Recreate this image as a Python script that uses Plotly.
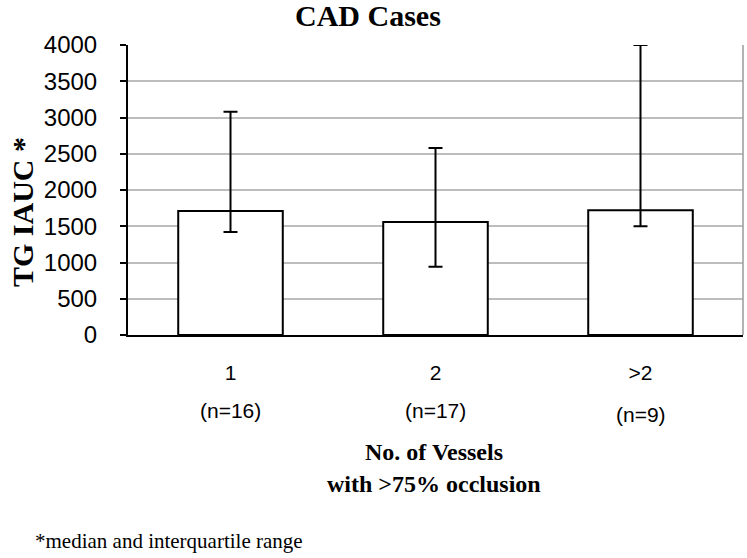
import plotly.graph_objects as go

categories = ["1", "2", ">2"]
n_labels = ["(n=16)", "(n=17)", "(n=9)"]
medians = [1710, 1560, 1720]
q1 = [1420, 940, 1500]
q3 = [3080, 2580, 4000]

err_plus = [h - m for h, m in zip(q3, medians)]
err_minus = [m - l for m, l in zip(medians, q1)]

W, H = 747, 558
# plot area in page pixels
PL, PR, PT, PB = 128, 743, 45, 335
L, T = PL, PT
R, B = W - PR, H - PB
pw, ph = PR - PL, PB - PT

serif = "Liberation Serif"
sans = "Liberation Sans"

fig = go.Figure()
fig.add_trace(go.Bar(
    x=categories, y=medians, width=0.51,
    marker=dict(color="white", line=dict(color="black", width=2)),
    error_y=dict(type="data", symmetric=False, array=err_plus, arrayminus=err_minus,
                 color="black", thickness=2, width=7),
    showlegend=False,
))

def px_x(px):
    return (px - PL) / pw

def px_y(py):
    return 1 - (py - PT) / ph

n_y = [410, 410, 414]
annotations = []
for i, n in enumerate(n_labels):
    annotations.append(dict(x=i, xref="x", y=px_y(n_y[i]), yref="paper", text=n,
                            showarrow=False, font=dict(family=sans, size=21, color="black"),
                            xanchor="center", yanchor="middle"))
annotations += [
    dict(x=px_x(434), xref="paper", y=px_y(452), yref="paper", text="<b>No. of Vessels</b>",
         showarrow=False, xanchor="center", yanchor="middle",
         font=dict(family=serif, size=24, color="black")),
    dict(x=px_x(434), xref="paper", y=px_y(484), yref="paper", text="<b>with >75% occlusion</b>",
         showarrow=False, xanchor="center", yanchor="middle",
         font=dict(family=serif, size=24, color="black")),
    dict(x=px_x(33), xref="paper", y=px_y(541), yref="paper", text="*median and interquartile range",
         showarrow=False, xanchor="left", yanchor="middle",
         font=dict(family=serif, size=21, color="black")),
    dict(x=px_x(22), xref="paper", y=px_y(212), yref="paper", text="<b>TG IAUC *</b>",
         showarrow=False, textangle=-90, xanchor="center", yanchor="middle",
         font=dict(family=serif, size=30, color="black")),
    dict(x=px_x(368), xref="paper", y=px_y(16), yref="paper", text="<b>CAD Cases</b>",
         showarrow=False, xanchor="center", yanchor="middle",
         font=dict(family=serif, size=30, color="black")),
]

fig.update_layout(
    width=W, height=H,
    margin=dict(l=L, r=R, t=T, b=B, pad=0),
    paper_bgcolor="white", plot_bgcolor="white",
    bargap=0.49,
    annotations=annotations,
    shapes=[dict(type="line", xref="paper", yref="paper", x0=1, x1=1, y0=0, y1=1,
                 line=dict(color="#9a9a9a", width=1.5))],
)
fig.update_xaxes(showline=True, linecolor="black", linewidth=2, ticks="",
                 tickfont=dict(family=sans, size=21, color="black"), ticklabelstandoff=18,
                 showgrid=False)
fig.update_yaxes(range=[0, 4000], dtick=500, showline=True, linecolor="black", linewidth=2,
                 ticks="outside", ticklen=6, tickwidth=2, tickcolor="black",
                 tickfont=dict(family=sans, size=24, color="black"), ticklabelstandoff=18,
                 showgrid=True, gridcolor="#bdbdbd", gridwidth=1.5, zeroline=False)

fig.write_html("out.html", config={"displayModeBar": False},
               post_script="document.body.style.margin='0';document.body.style.overflow='hidden';")
